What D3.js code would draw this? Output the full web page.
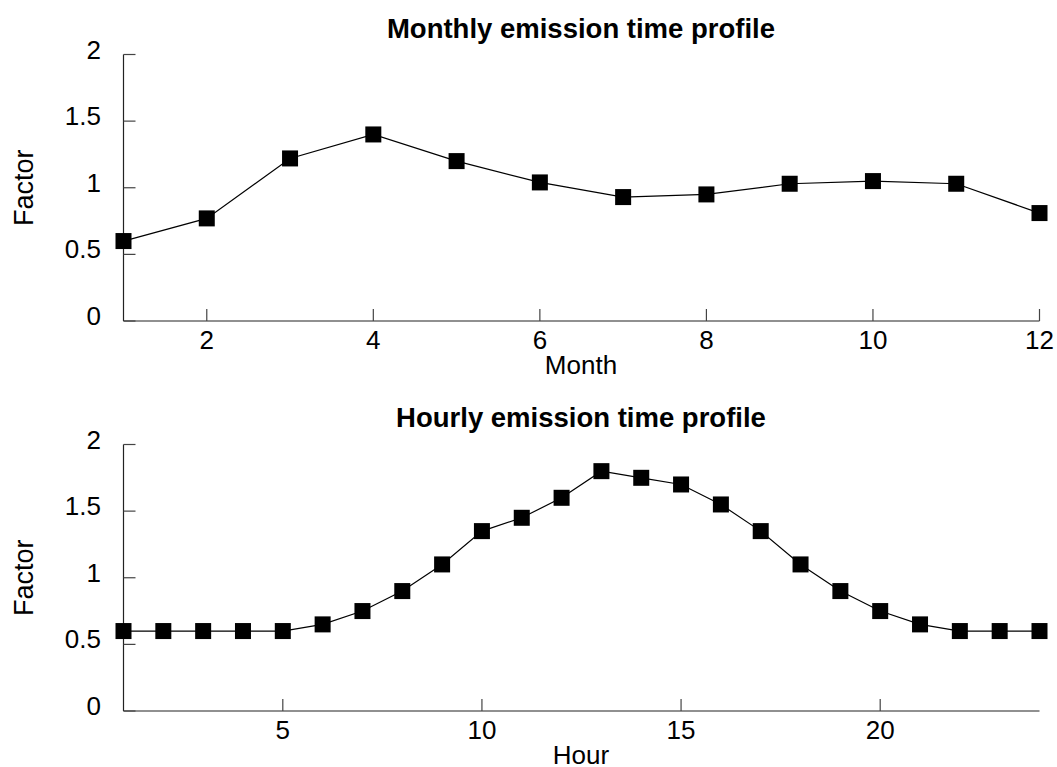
<!DOCTYPE html>
<html><head><meta charset="utf-8">
<script src="https://cdn.jsdelivr.net/npm/d3@7"></script>
<style>
body{margin:0;background:#fff;}
text{font-family:"Liberation Sans",Arial,sans-serif;}
</style></head>
<body><svg id="c" width="1057" height="767"></svg>
<script>
const months = [1,2,3,4,5,6,7,8,9,10,11,12];
const monthFactors = [0.60,0.77,1.22,1.40,1.20,1.04,0.93,0.95,1.03,1.05,1.03,0.81];
const hours = [1,2,3,4,5,6,7,8,9,10,11,12,13,14,15,16,17,18,19,20,21,22,23,24];
const hourFactors = [0.60,0.60,0.60,0.60,0.60,0.65,0.75,0.90,1.10,1.35,1.45,1.60,1.80,1.75,1.70,1.55,1.35,1.10,0.90,0.75,0.65,0.60,0.60,0.60];
const monthTicks = [2,4,6,8,10,12];
const hourTicks = [5,10,15,20];
const yTicks = [0,0.5,1,1.5,2];

const svg = d3.select("#c");

function panel(cfg){
  const g = svg.append("g");
  const x = d3.scaleLinear().domain(cfg.xDomain).range([123.5, 1039.5]);
  const y = d3.scaleLinear().domain([0,2]).range([cfg.y0, cfg.y2]);
  g.append("line").attr("x1",123.5).attr("x2",123.5).attr("y1",y(2)).attr("y2",y(0)).attr("stroke","#222").attr("stroke-width",1.2);
  g.append("line").attr("x1",123.5).attr("x2",1039.5).attr("y1",y(0)).attr("y2",y(0)).attr("stroke","#222").attr("stroke-width",1.2);
  yTicks.forEach(t=>{
    g.append("line").attr("x1",123.5).attr("x2",135.5).attr("y1",y(t)).attr("y2",y(t)).attr("stroke","#444").attr("stroke-width",1.2);
    g.append("text").attr("x",101).attr("y",y(t)+4).attr("text-anchor","end").attr("font-size",26).text(d3.format("")(t));
  });
  cfg.xTicks.forEach(t=>{
    g.append("line").attr("x1",x(t)).attr("x2",x(t)).attr("y1",y(0)).attr("y2",y(0)-12).attr("stroke","#444").attr("stroke-width",1.2);
    g.append("text").attr("x",x(t)).attr("y",y(0)+28).attr("text-anchor","middle").attr("font-size",26).text(t);
  });
  const line = d3.line().x((d,i)=>x(cfg.xs[i])).y(d=>y(d));
  g.append("path").datum(cfg.ys).attr("d",line).attr("fill","none").attr("stroke","#000").attr("stroke-width",1.2);
  g.selectAll("rect.m").data(cfg.ys).enter().append("rect")
    .attr("x",(d,i)=>x(cfg.xs[i])-8).attr("y",d=>y(d)-8).attr("width",16).attr("height",16).attr("fill","#000");
  g.append("text").attr("x",581).attr("y",cfg.titleY).attr("text-anchor","middle").attr("font-size",27.5).attr("font-weight","bold").text(cfg.title);
  g.append("text").attr("x",581).attr("y",y(0)+52.5).attr("text-anchor","middle").attr("font-size",26).text(cfg.xLabel);
  g.append("text").attr("transform",`translate(33,${(y(0)+y(2))/2}) rotate(-90)`).attr("text-anchor","middle").attr("font-size",27).text("Factor");
}

panel({xDomain:[1,12], y0:321, y2:54.5, xs:months, ys:monthFactors, xTicks:monthTicks, title:"Monthly emission time profile", titleY:37.5, xLabel:"Month"});
panel({xDomain:[1,24], y0:711, y2:444.5, xs:hours, ys:hourFactors, xTicks:hourTicks, title:"Hourly emission time profile", titleY:427, xLabel:"Hour"});
</script></body></html>
